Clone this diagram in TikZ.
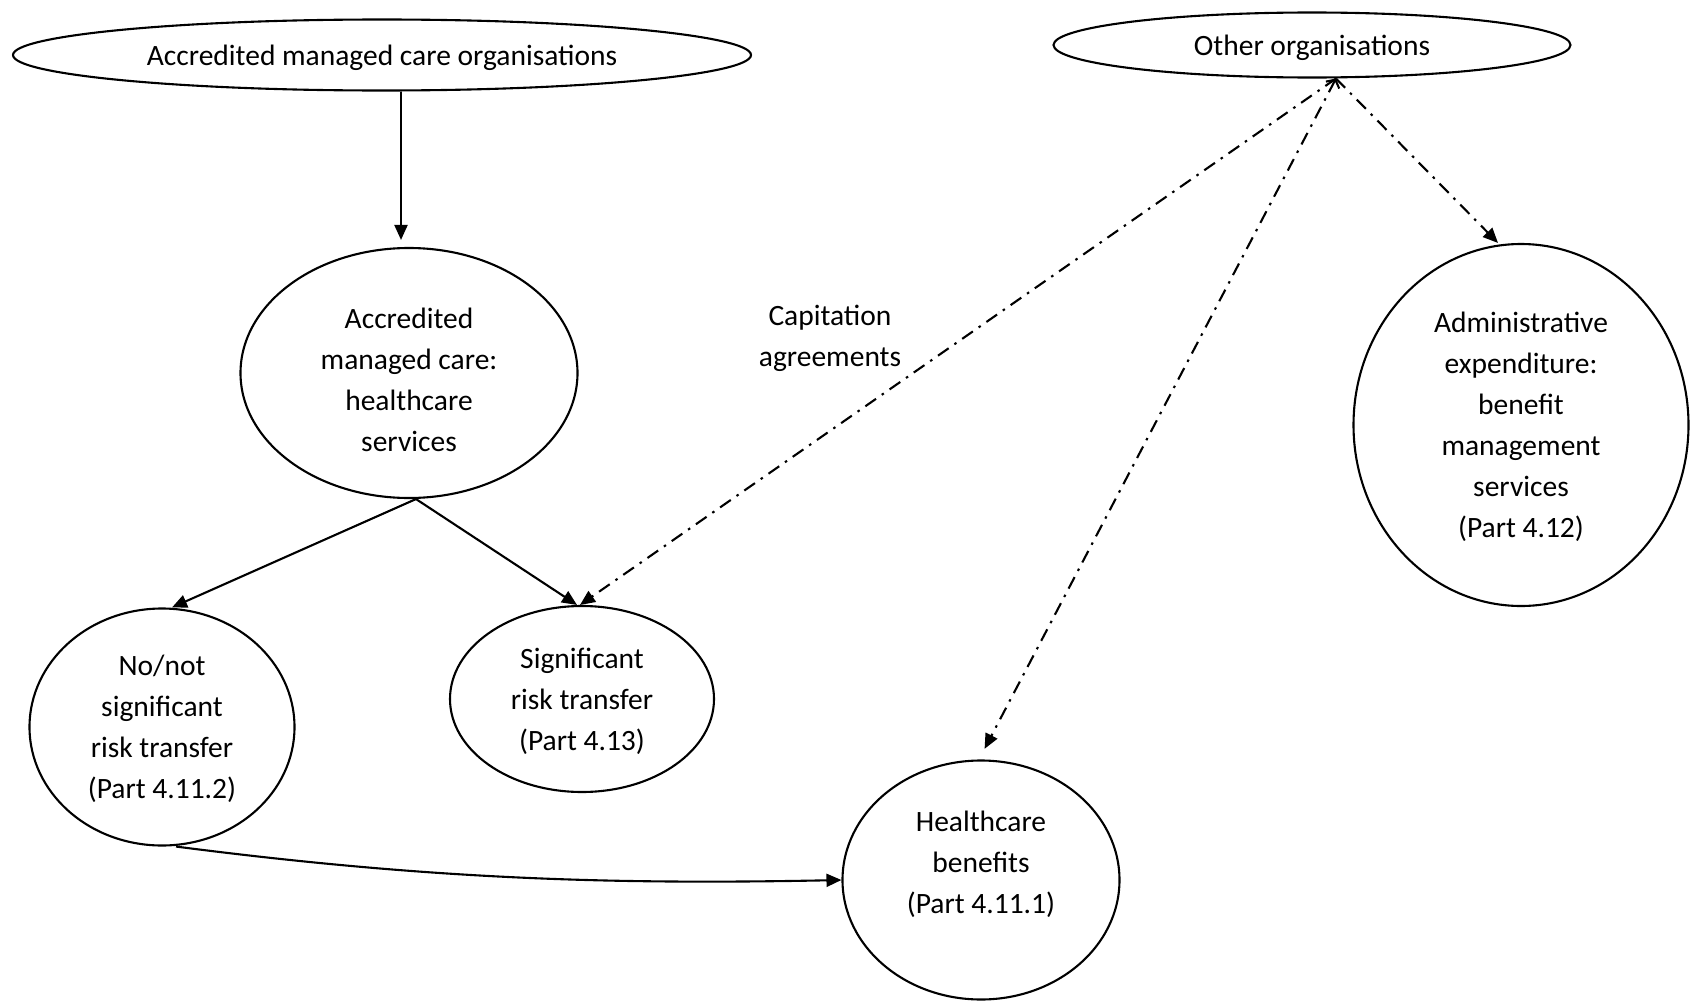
\documentclass[tikz,border=0pt]{standalone}
\usepackage{fontspec}
\setmainfont{Carlito}
\usetikzlibrary{shapes.geometric,arrows.meta}
\begin{document}
\begin{tikzpicture}[x=1pt,y=-1pt,
  txt/.style={font={\fontsize{29.5}{41}\selectfont}},
  oval/.style={ellipse,draw,line width=2.1pt,inner sep=0pt,align=center,txt,text depth=0pt},
  solidarrow/.style={line width=2.1pt,-{Triangle[length=15pt,width=13pt]}},
  dotdash/.style={line width=2.1pt,dash pattern=on 13pt off 7pt on 2.5pt off 7pt,
    -{Triangle[length=15pt,width=13pt]}}]
\useasboundingbox (0,0) rectangle (1690,1001);
\node[oval,minimum width=738pt,minimum height=71pt] (amco) at (382,55) {Accredited managed care organisations};
\node[oval,minimum width=517pt,minimum height=65pt] (other) at (1312,45) {Other organisations};
\node[oval,minimum width=337pt,minimum height=250pt,text height=157pt] (svc) at (409,373) {Accredited\\managed care:\\healthcare\\services};
\node[oval,minimum width=335pt,minimum height=362pt] (admin) at (1521,425) {Administrative\\expenditure:\\benefit\\management\\services\\(Part 4.12)};
\node[oval,minimum width=265pt,minimum height=237pt] (nonot) at (162,727) {No/not\\significant\\risk transfer\\(Part 4.11.2)};
\node[oval,minimum width=264pt,minimum height=186pt] (sig) at (582,699) {Significant\\risk transfer\\(Part 4.13)};
\node[oval,minimum width=277pt,minimum height=239pt,text depth=36pt] (ben) at (981,880) {Healthcare\\benefits\\(Part 4.11.1)};
\node[align=center,txt] (cap) at (830,338) {Capitation\\agreements};

\draw[solidarrow,shorten >=7pt] ([xshift=19pt]amco.south) -- ([xshift=-8pt]svc.north);
\draw[solidarrow] ([xshift=7pt]svc.south) -- ([xshift=10pt]nonot.north);
\draw[solidarrow] ([xshift=7pt]svc.south) -- ([xshift=-5pt]sig.north);
\draw[dotdash] ([xshift=24pt]other.south) -- ([xshift=-2pt]sig.north);
\draw[dotdash,{Straight Barb[length=6pt,width=15pt]}-{Triangle[length=15pt,width=13pt]},shorten >=12pt] ([xshift=24pt]other.south) -- ([xshift=-2pt]ben.north);
\draw[dotdash] ([xshift=24pt]other.south) -- ([xshift=-23pt]admin.north);
\draw[solidarrow] ([xshift=14pt]nonot.south) .. controls (420,878) and (600,885) .. (ben.west);
\end{tikzpicture}
\end{document}
